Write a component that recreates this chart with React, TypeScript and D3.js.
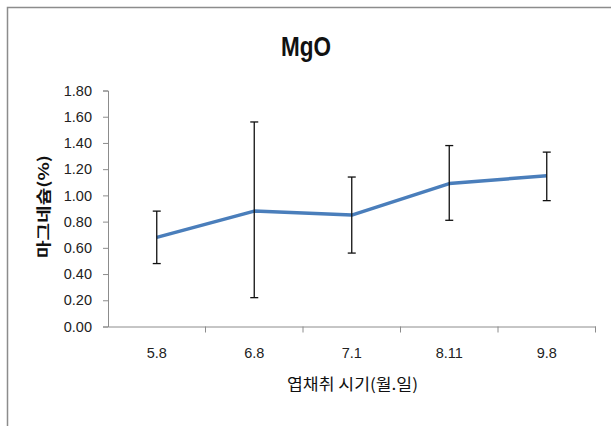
import React, { useEffect, useRef } from 'react';
import * as d3 from 'd3';

const categories = ['5.8', '6.8', '7.1', '8.11', '9.8'];
const meanValues = [0.68, 0.88, 0.85, 1.09, 1.15];
const errUp = [0.2, 0.68, 0.29, 0.29, 0.18];
const errDown = [0.2, 0.66, 0.29, 0.28, 0.19];
const yTicks = [0, 0.2, 0.4, 0.6, 0.8, 1.0, 1.2, 1.4, 1.6, 1.8];

const App = () => {
  const ref = useRef<SVGSVGElement>(null);

  useEffect(() => {
    const svg = d3.select(ref.current);
    svg.selectAll('*').remove();

    // outer frame of the chart area
    svg.append('rect')
      .attr('x', 7.5).attr('y', 7.5)
      .attr('width', 620).attr('height', 440)
      .attr('fill', 'white')
      .attr('stroke', '#8c8c8c')
      .attr('stroke-width', 1.5);

    const left = 108, right = 595.5, top = 90.5, bottom = 326.5;

    const xScale = d3.scaleBand()
      .domain(categories)
      .range([left, right]);

    const yScale = d3.scaleLinear()
      .domain([0, 1.8])
      .range([bottom, top]);

    // title
    svg.append('text')
      .attr('x', 306).attr('y', 56)
      .attr('text-anchor', 'middle')
      .attr('font-family', '"Liberation Sans", Arial, sans-serif')
      .attr('font-weight', 'bold')
      .attr('font-size', 27)
      .attr('textLength', 50)
      .attr('lengthAdjust', 'spacingAndGlyphs')
      .attr('fill', '#111')
      .text('MgO');

    // y axis
    const yAxis = svg.append('g')
      .attr('transform', `translate(${left},0)`)
      .call(d3.axisLeft(yScale).tickValues(yTicks).tickSize(5).tickPadding(11)
        .tickFormat(d3.format('.2f')));
    yAxis.select('.domain').attr('stroke', '#8c8c8c');
    yAxis.selectAll('.tick line').attr('stroke', '#8c8c8c');
    yAxis.selectAll('.tick text')
      .attr('font-family', '"Liberation Sans", Arial, sans-serif')
      .attr('font-size', 14.5)
      .attr('fill', '#222');

    // x axis, ticks at band edges
    const xAxis = svg.append('g')
      .attr('transform', `translate(0,${bottom})`)
      .call(d3.axisBottom(xScale).tickSize(0).tickPadding(21));
    xAxis.select('.domain').attr('stroke', '#8c8c8c');
    xAxis.selectAll('.tick text')
      .attr('font-family', '"Liberation Sans", Arial, sans-serif')
      .attr('font-size', 14.5)
      .attr('fill', '#222');
    const edges = categories.map(c => (xScale(c) as number)).concat([right]);
    xAxis.selectAll('line.edge')
      .data(edges.slice(1))
      .enter()
      .append('line')
      .attr('class', 'edge')
      .attr('x1', d => d).attr('x2', d => d)
      .attr('y1', 0).attr('y2', 6)
      .attr('stroke', '#8c8c8c');

    const cx = (c: string) => (xScale(c) as number) + xScale.bandwidth() / 2;

    // series line
    const line = d3.line<number>()
      .x((d, i) => cx(categories[i]))
      .y(d => yScale(d));
    svg.append('path')
      .datum(meanValues)
      .attr('d', line)
      .attr('fill', 'none')
      .attr('stroke', '#4a7ebb')
      .attr('stroke-width', 3.5)
      .attr('stroke-linejoin', 'round');

    // error bars
    const eb = svg.append('g').attr('stroke', '#111').attr('stroke-width', 1.3);
    meanValues.forEach((v, i) => {
      const x = cx(categories[i]);
      const y1 = yScale(v + errUp[i]);
      const y2 = yScale(v - errDown[i]);
      eb.append('line').attr('x1', x).attr('x2', x).attr('y1', y1).attr('y2', y2);
      eb.append('line').attr('x1', x - 4).attr('x2', x + 4).attr('y1', y1).attr('y2', y1);
      eb.append('line').attr('x1', x - 4).attr('x2', x + 4).attr('y1', y2).attr('y2', y2);
    });

    // axis titles
    svg.append('text')
      .attr('transform', 'translate(49,206.5) rotate(-90)')
      .attr('text-anchor', 'middle')
      .attr('font-family', '"Noto Sans CJK KR", sans-serif')
      .attr('font-weight', 'bold')
      .attr('font-size', 15)
      .attr('textLength', 103)
      .attr('lengthAdjust', 'spacingAndGlyphs')
      .attr('fill', '#111')
      .text('마그네슘(%)');

    svg.append('text')
      .attr('x', 352.5).attr('y', 390)
      .attr('text-anchor', 'middle')
      .attr('font-family', '"Noto Sans CJK KR", sans-serif')
      .attr('font-size', 16)
      .attr('textLength', 131)
      .attr('lengthAdjust', 'spacingAndGlyphs')
      .attr('fill', '#111')
      .text('엽채취 시기(월.일)');
  }, []);

  return (
    <svg ref={ref} width={611} height={426}
      style={{ position: 'absolute', left: 0, top: 0, background: 'white' }} />
  );
};

export default App;
